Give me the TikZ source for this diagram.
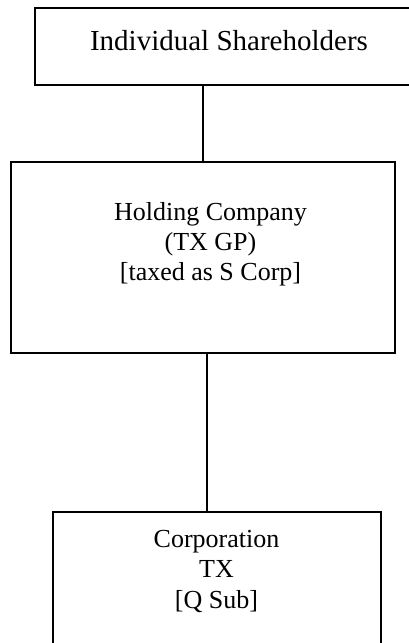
\documentclass[tikz,border=0pt]{standalone}
\usepackage{fontspec}
\setmainfont{Liberation Serif}
\begin{document}
\begin{tikzpicture}[x=1pt,y=-1pt,
  entity/.style={draw,line width=1.4pt,rectangle,inner sep=0pt},
  label/.style={align=center,inner sep=0pt,anchor=base},
  link/.style={line width=1.4pt}]
\useasboundingbox (0,0) rectangle (409,643);
% ownership boxes
\node[entity,minimum width=388pt,minimum height=77pt] (owners) at (229,46.5) {};
\node[entity,minimum width=384pt,minimum height=191pt] (hold) at (203,257.5) {};
\node[entity,minimum width=328pt,minimum height=150pt] (corp) at (217,587) {};
% box texts (anchored at the baseline of their last line)
\node[label,font=\fontsize{29}{33}\selectfont] (owners-t) at (229,50) {Individual Shareholders};
\node[label,font=\fontsize{26}{30}\selectfont] (hold-t) at (210.5,280) {Holding Company\\(TX GP)\\{[taxed as S Corp]}};
\node[label,font=\fontsize{26}{30.5}\selectfont] (corp-t) at (216.5,608) {Corporation\\TX\\{[Q Sub]}};
% connectors
\draw[link] (owners.south -| hold.north) -- (hold.north);
\draw[link] ([xshift=4pt]hold.south) -- ([xshift=4pt]hold.south |- corp.north);
\end{tikzpicture}
\end{document}
